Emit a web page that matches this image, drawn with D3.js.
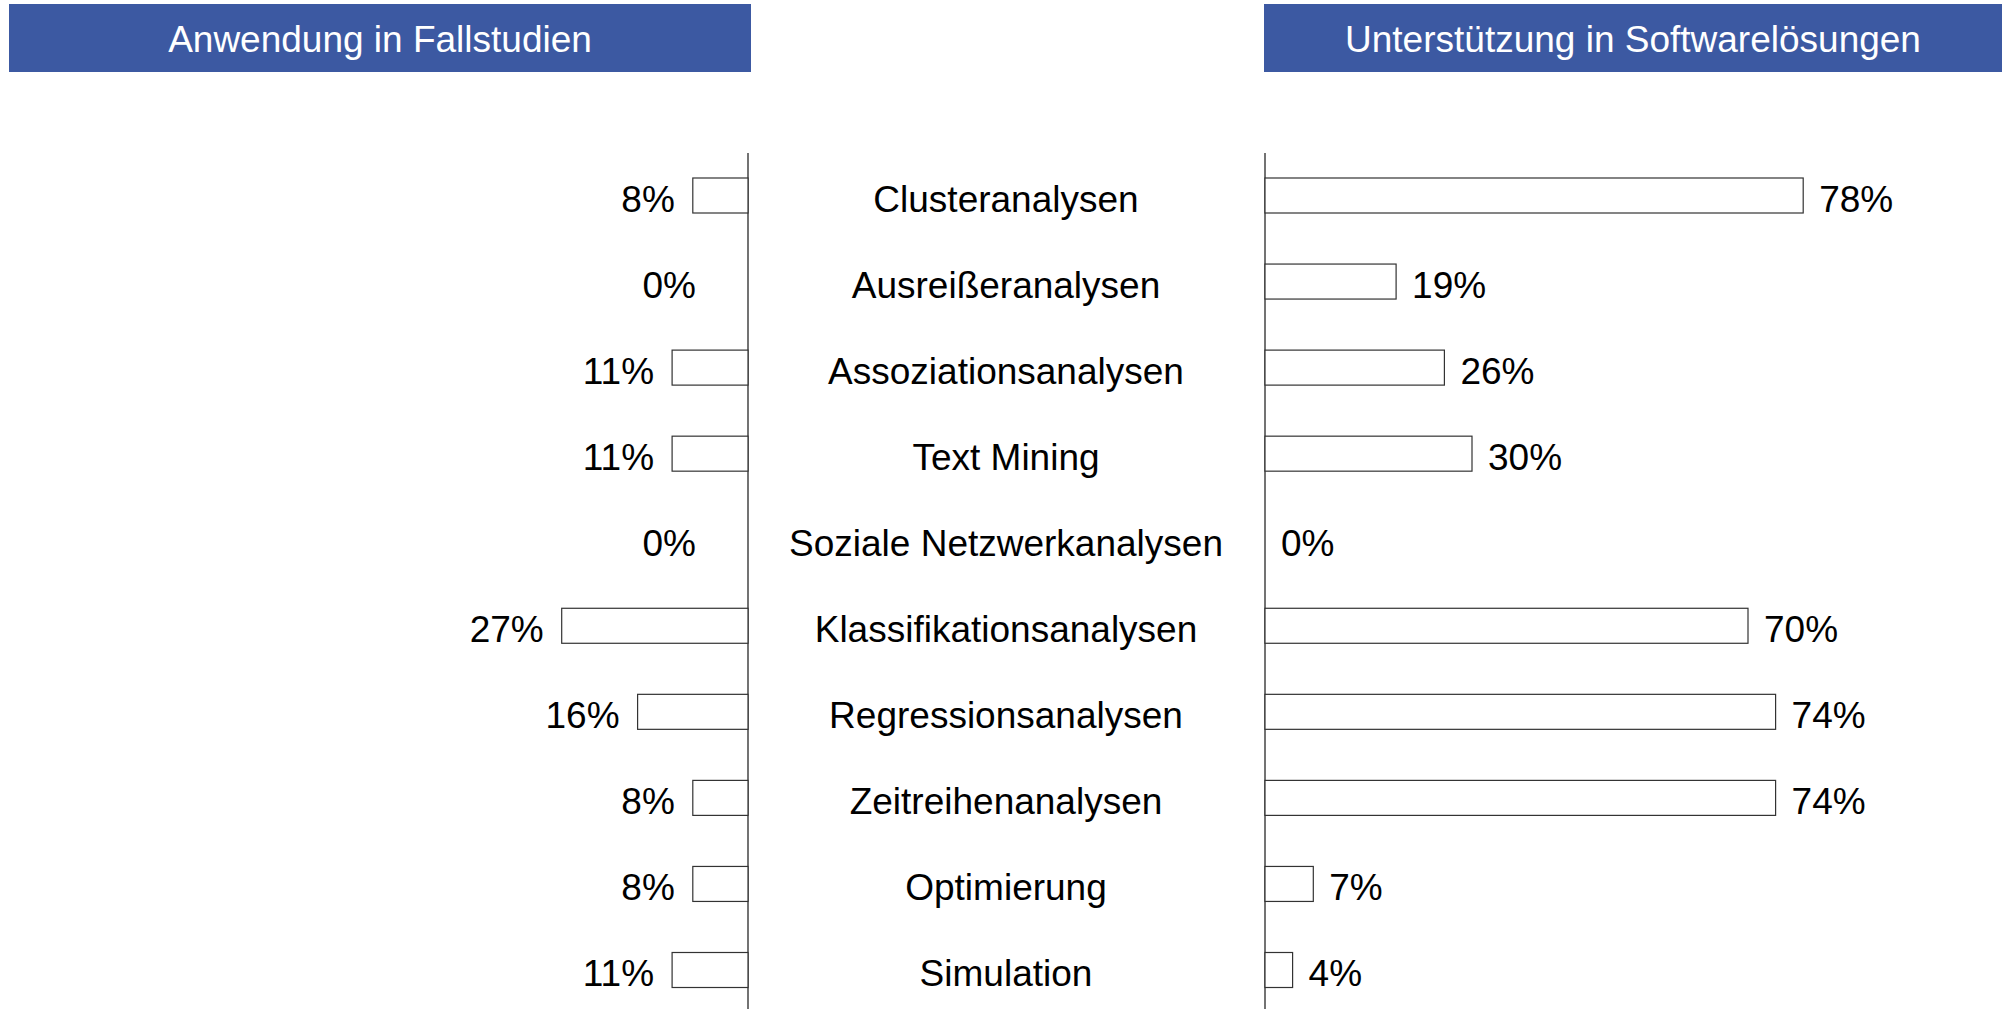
<!DOCTYPE html>
<html>
<head>
<meta charset="utf-8">
<script src="https://cdn.jsdelivr.net/npm/d3@7"></script>
<style>
  body { margin: 0; background: #fff; }
  svg { display: block; font-family: "Liberation Sans", Arial, sans-serif; }
</style>
</head>
<body>
<svg width="2002" height="1009"></svg>
<script>
// Categories (top to bottom)
var categories = [
  'Clusteranalysen',
  'Ausreißeranalysen',
  'Assoziationsanalysen',
  'Text Mining',
  'Soziale Netzwerkanalysen',
  'Klassifikationsanalysen',
  'Regressionsanalysen',
  'Zeitreihenanalysen',
  'Optimierung',
  'Simulation'
];

// Anwendung in Fallstudien (%)
var fallstudien = [8, 0, 11, 11, 0, 27, 16, 8, 8, 11];

// Unterstützung in Softwarelösungen (%)
var software = [78, 19, 26, 30, 0, 70, 74, 74, 7, 4];

// Panel titles
var titles = ['Anwendung in Fallstudien', 'Unterstützung in Softwarelösungen'];

var svg = d3.select('svg');

// row positions
var y = d3.scalePoint().domain(categories).range([195.5, 970]);
var barH = 35;

// horizontal scales, left one grows to the left
var xL = d3.scaleLinear().domain([0, 100]).range([748, 58]);
var xR = d3.scaleLinear().domain([0, 100]).range([1265, 1955]);

// header boxes
var headers = [
  {x: 9, w: 742, t: titles[0]},
  {x: 1264, w: 738, t: titles[1]}
];
svg.selectAll('rect.header').data(headers)
  .enter().append('rect')
    .attr('class', 'header')
    .attr('x', d => d.x)
    .attr('y', 4)
    .attr('width', d => d.w)
    .attr('height', 68)
    .attr('fill', '#3C59A2');
svg.selectAll('text.header').data(headers)
  .enter().append('text')
    .attr('class', 'header')
    .attr('x', d => d.x + d.w / 2)
    .attr('y', 52)
    .attr('text-anchor', 'middle')
    .attr('fill', '#fff')
    .style('font-size', '37px')
    .text(d => d.t);

// axis lines
[xL(0), xR(0)].forEach(function(x) {
  svg.append('line')
    .attr('x1', x).attr('x2', x)
    .attr('y1', 153).attr('y2', 1009)
    .attr('stroke', '#444')
    .attr('stroke-width', 1.5);
});

var rows = categories.map((c, i) => ({c: c, a: fallstudien[i], s: software[i]}));

// left bars
svg.selectAll('rect.left').data(rows.filter(d => d.a > 0))
  .enter().append('rect')
    .attr('class', 'left')
    .attr('x', d => xL(d.a))
    .attr('y', d => y(d.c) - barH / 2)
    .attr('width', d => xL(0) - xL(d.a))
    .attr('height', barH)
    .attr('fill', '#fff')
    .attr('stroke', '#333')
    .attr('stroke-width', 1.2);

// right bars
svg.selectAll('rect.right').data(rows.filter(d => d.s > 0))
  .enter().append('rect')
    .attr('class', 'right')
    .attr('x', xR(0))
    .attr('y', d => y(d.c) - barH / 2)
    .attr('width', d => xR(d.s) - xR(0))
    .attr('height', barH)
    .attr('fill', '#fff')
    .attr('stroke', '#333')
    .attr('stroke-width', 1.2);

// value labels
svg.selectAll('text.lval').data(rows)
  .enter().append('text')
    .attr('class', 'lval')
    .attr('x', d => d.a > 0 ? xL(d.a) - 18 : xL(0) - 52)
    .attr('y', d => y(d.c) + 16)
    .attr('text-anchor', 'end')
    .style('font-size', '37px')
    .text(d => d.a + '%');

svg.selectAll('text.rval').data(rows)
  .enter().append('text')
    .attr('class', 'rval')
    .attr('x', d => xR(d.s) + 16)
    .attr('y', d => y(d.c) + 16)
    .style('font-size', '37px')
    .text(d => d.s + '%');

// category labels in the middle
svg.selectAll('text.cat').data(rows)
  .enter().append('text')
    .attr('class', 'cat')
    .attr('x', 1006)
    .attr('y', d => y(d.c) + 16)
    .attr('text-anchor', 'middle')
    .style('font-size', '37px')
    .text(d => d.c);
</script>
</body>
</html>
